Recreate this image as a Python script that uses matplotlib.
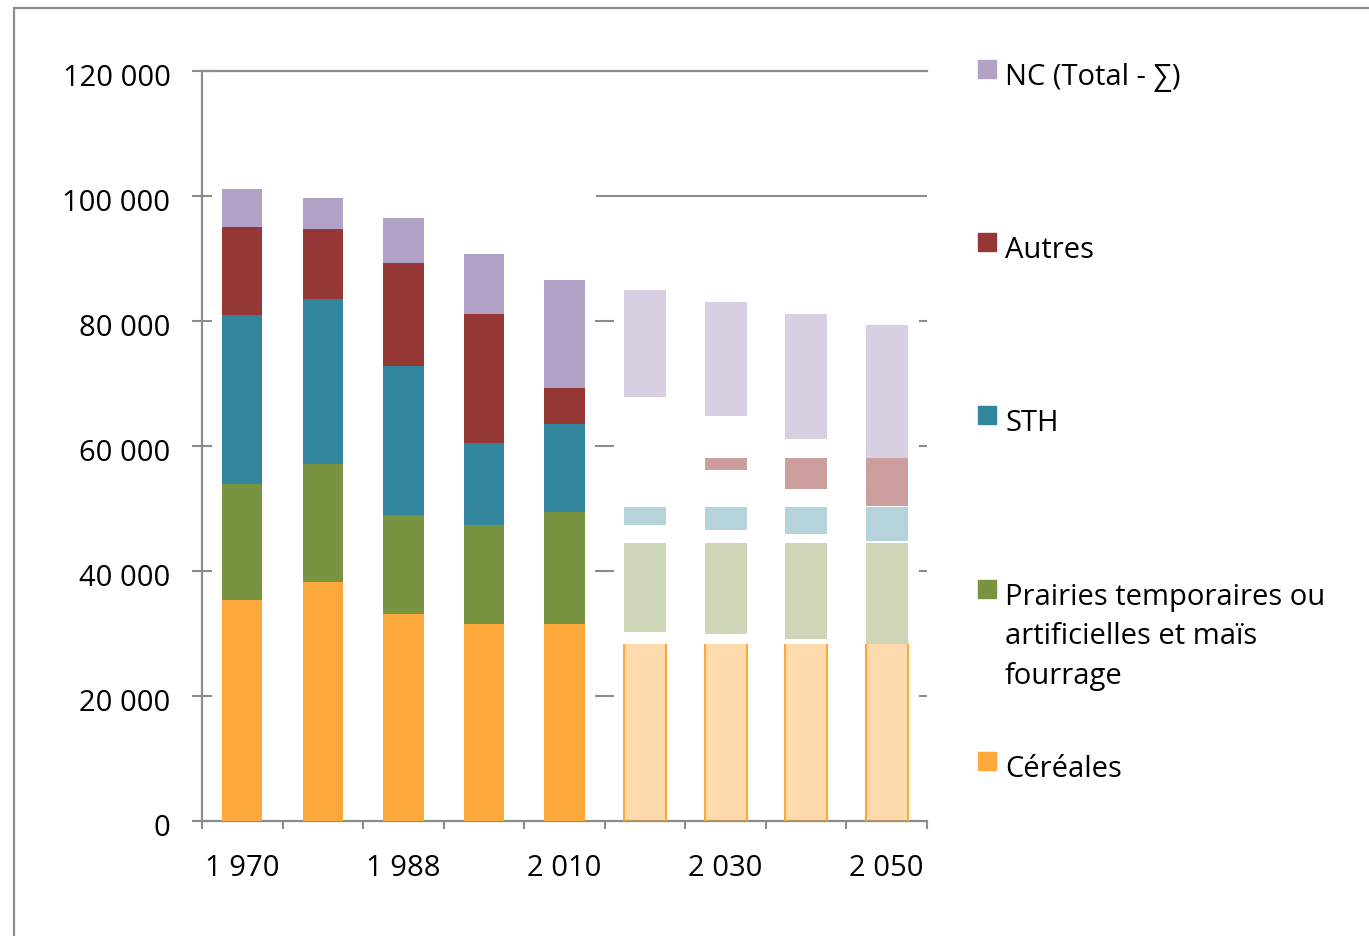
import matplotlib
matplotlib.use("Agg")
import matplotlib.pyplot as plt
from matplotlib.patches import Rectangle
from matplotlib.transforms import ScaledTranslation
import numpy as np

plt.rcParams['font.family'] = ['Open Sans', 'DejaVu Sans']

# ---- data (thousands of ha) ----
categories = ["1 970", "1 979", "1 988", "2 000", "2 010", "2 020", "2 030", "2 040", "2 050"]
shown_labels = ["1 970", "", "1 988", "", "2 010", "", "2 030", "", "2 050"]

series_names = ["Céréales", "Prairies temporaires ou\nartificielles et maïs\nfourrage", "STH", "Autres", "NC (Total - \u2211)"]
colors = ["#FDA83A", "#789440", "#31859C", "#953735", "#B3A2C7"]
fut_alphas = [0.42, 0.37, 0.36, 0.48, 0.5]

# historical (stacked)
past_cereales = [35400, 38200, 33100, 31600, 31600]
past_prairies = [18500, 18900, 15900, 15800, 17800]
past_sth = [27100, 26500, 23800, 13100, 14200]
past_autres = [14100, 11100, 16500, 20700, 5700]
past_nc = [6000, 5000, 7200, 9600, 17300]

# projections: visible segments (bottom, top)
fut_cereales_lo = [0, 0, 0, 0]
fut_cereales_hi = [28300, 28300, 28300, 28300]
fut_prairies_lo = [30300, 29900, 29100, 28300]
fut_prairies_hi = [44500, 44500, 44500, 44500]
fut_sth_lo = [47400, 46600, 45900, 44800]
fut_sth_hi = [50200, 50200, 50200, 50300]
fut_autres_lo = [58100, 56200, 53100, 50400]
fut_autres_hi = [58100, 58100, 58100, 58100]
fut_nc_lo = [67800, 64800, 61200, 58100]
fut_nc_hi = [85000, 83100, 81200, 79300]

W, H = 1369, 937
fig = plt.figure(figsize=(W / 100, H / 100), dpi=100)
ax = fig.add_axes([202 / W, 1 - 822 / H, 725 / W, 750 / H])

x_all = np.arange(len(categories))
x_past = x_all[:5]
x_fut = x_all[5:]

past = [past_cereales, past_prairies, past_sth, past_autres, past_nc]
bottom = np.zeros(len(x_past))
for vals, c in zip(past, colors):
    ax.bar(x_past, vals, width=0.5, bottom=bottom, color=c, zorder=3)
    bottom += np.array(vals)

fut = [(fut_cereales_lo, fut_cereales_hi), (fut_prairies_lo, fut_prairies_hi),
       (fut_sth_lo, fut_sth_hi), (fut_autres_lo, fut_autres_hi), (fut_nc_lo, fut_nc_hi)]
for (lo, hi), c, a in zip(fut, colors, fut_alphas):
    lo = np.array(lo); hi = np.array(hi)
    ax.bar(x_fut, hi - lo, width=0.52, bottom=lo, color=c, alpha=a, linewidth=0, zorder=3)
# orange side edges of projected cereal bars
ax.vlines(np.concatenate([x_fut - 0.26, x_fut + 0.26]), 0, np.tile(fut_cereales_hi, 2),
          color=colors[0], lw=1.5, zorder=4)

grey = "#8C8C8C"
ax.set_xlim(-0.5, len(categories) - 0.5)
ax.set_ylim(0, 120000)

# partial grid lines as in the reference
ax.axhline(100000, xmin=0.545, xmax=1.0, color=grey, lw=1.5, zorder=1)
for yv in [20000, 40000, 60000, 80000]:
    ax.axhline(yv, xmin=0.543, xmax=0.567, color=grey, lw=1.5, zorder=1)
    ax.axhline(yv, xmin=0.99, xmax=1.0, color=grey, lw=1.5, zorder=1)

ax.spines["right"].set_visible(False)
for s in ["left", "bottom", "top"]:
    ax.spines[s].set_color(grey)
    ax.spines[s].set_linewidth(1.6)

FS = 21
ax.set_yticks(np.arange(0, 120001, 20000))
ax.set_yticklabels([f"{v:,}".replace(",", " ") for v in range(0, 120001, 20000)])
ax.tick_params(axis='y', direction='inout', length=14.4, width=1.5, color=grey,
               labelsize=FS, pad=15.5)
shift = ScaledTranslation(0, -3 / 100, fig.dpi_scale_trans)
for lbl in ax.get_yticklabels():
    lbl.set_transform(lbl.get_transform() + shift)
ax.set_xticks(x_all)
ax.set_xticklabels(shown_labels)
ax.tick_params(axis='x', which='major', length=0, labelsize=FS, pad=23)
ax.set_xticks(np.arange(-0.5, len(categories), 1), minor=True)
ax.tick_params(axis='x', which='minor', direction='out', length=6, width=1.5, color=grey)
ax.tick_params(top=False, right=False)

# legend (manual, right side, reversed order)
leg_y = [74, 247, 420, 594, 766]
leg_order = [4, 3, 2, 1, 0]
for yc, idx in zip(leg_y, leg_order):
    sq = 18
    sy = yc - 4
    fig.patches.append(Rectangle((978 / W, 1 - (sy + sq / 2) / H), sq / W, sq / H,
                                 transform=fig.transFigure, color=colors[idx]))
    fig.text(1005 / W, 1 - (yc - 11) / H, series_names[idx], fontsize=FS,
             ha='left', va='top', linespacing=1.47)

# outer border
fig.patches.append(Rectangle((14 / W, -0.1), 1.2, (1 - 9 / H) + 0.1, transform=fig.transFigure,
                             fill=False, edgecolor=grey, lw=1.6))

fig.savefig("out.png", dpi=100)
